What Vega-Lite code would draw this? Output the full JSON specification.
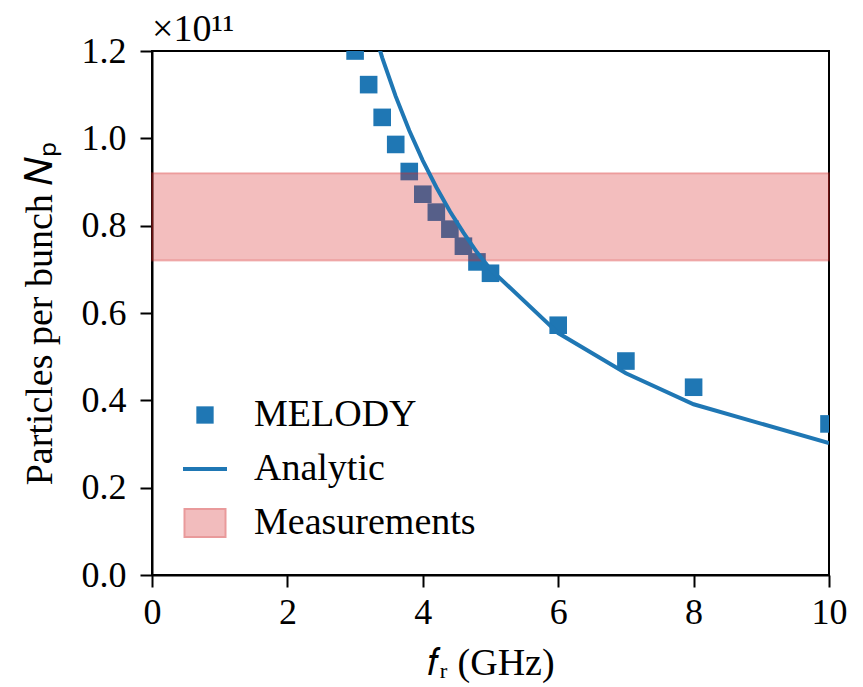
{
  "$schema": "https://vega.github.io/schema/vega-lite/v6.json",
  "width": 677,
  "height": 524,
  "autosize": {"type": "none"},
  "padding": {"left": 152, "top": 51, "right": 34, "bottom": 112},
  "background": "white",
  "title": {"text": "×10¹¹", "anchor": "start", "frame": "group", "fontSize": 38, "font": "Liberation Serif", "fontWeight": "normal", "offset": -16, "color": "black"},
  "datasets": {
    "melody": [
      {"series": "MELODY", "f": 3.0, "np": 1.2},
      {"series": "MELODY", "f": 3.2, "np": 1.123},
      {"series": "MELODY", "f": 3.4, "np": 1.048},
      {"series": "MELODY", "f": 3.6, "np": 0.986},
      {"series": "MELODY", "f": 3.8, "np": 0.924},
      {"series": "MELODY", "f": 4.0, "np": 0.872},
      {"series": "MELODY", "f": 4.2, "np": 0.831},
      {"series": "MELODY", "f": 4.4, "np": 0.792},
      {"series": "MELODY", "f": 4.6, "np": 0.753},
      {"series": "MELODY", "f": 4.8, "np": 0.717},
      {"series": "MELODY", "f": 5.0, "np": 0.691},
      {"series": "MELODY", "f": 6.0, "np": 0.572},
      {"series": "MELODY", "f": 7.0, "np": 0.49},
      {"series": "MELODY", "f": 8.0, "np": 0.43},
      {"series": "MELODY", "f": 10.0, "np": 0.346}
    ],
    "analytic": [
      {"series": "Analytic", "f": 3.0, "np": 1.407},
      {"series": "Analytic", "f": 3.2, "np": 1.288},
      {"series": "Analytic", "f": 3.4, "np": 1.185},
      {"series": "Analytic", "f": 3.6, "np": 1.096},
      {"series": "Analytic", "f": 3.8, "np": 1.018},
      {"series": "Analytic", "f": 4.0, "np": 0.949},
      {"series": "Analytic", "f": 4.2, "np": 0.888},
      {"series": "Analytic", "f": 4.4, "np": 0.833},
      {"series": "Analytic", "f": 4.6, "np": 0.784},
      {"series": "Analytic", "f": 4.8, "np": 0.739},
      {"series": "Analytic", "f": 5.0, "np": 0.7},
      {"series": "Analytic", "f": 6.0, "np": 0.554},
      {"series": "Analytic", "f": 7.0, "np": 0.462},
      {"series": "Analytic", "f": 8.0, "np": 0.391},
      {"series": "Analytic", "f": 10.0, "np": 0.302}
    ],
    "band": [
      {"series": "Measurements", "f0": 0, "f1": 10, "lo": 0.72, "hi": 0.92}
    ]
  },
  "layer": [
    {
      "data": {"name": "melody"},
      "mark": {"type": "point", "filled": true, "size": 310, "opacity": 1, "color": "#1f77b4", "clip": true},
      "encoding": {
        "x": {"field": "f", "type": "quantitative", "scale": {"domain": [0, 10], "nice": false, "zero": false},
              "axis": {"values": [0, 2, 4, 6, 8, 10], "format": "d", "labelPadding": 8, "titlePadding": 14},
              "title": "𝑓ᵣ (GHz)"},
        "y": {"field": "np", "type": "quantitative", "scale": {"domain": [0, 1.2], "nice": false},
              "axis": {"values": [0, 0.2, 0.4, 0.6, 0.8, 1.0, 1.2], "format": ".1f", "labelPadding": 14, "titlePadding": 22},
              "title": "Particles per bunch 𝑁ₚ"},
        "shape": {"field": "series", "type": "nominal",
                  "scale": {"domain": ["MELODY", "Analytic", "Measurements"], "range": ["square", "stroke", "M-1,-0.68H1V0.68H-1Z"]},
                  "legend": {
                    "orient": "none", "legendX": 34, "legendY": 345, "title": null, "padding": 0,
                    "symbolSize": 1936, "symbolOffset": 0, "labelFontSize": 38, "labelFont": "Liberation Serif",
                    "labelOffset": 30, "rowPadding": 16, "labelColor": "black", "labelLimit": 400,
                    "encoding": {"symbols": {
                      "size": {"value": {"expr": "datum.value === 'MELODY' ? 300 : datum.value === 'Analytic' ? 1936 : 1681"}},
                      "fill": {"value": {"expr": "datum.value === 'MELODY' ? '#1f77b4' : datum.value === 'Measurements' ? '#f2bcbd' : 'transparent'"}},
                      "stroke": {"value": {"expr": "datum.value === 'Measurements' ? '#e99a9b' : '#1f77b4'"}},
                      "strokeWidth": {"value": {"expr": "datum.value === 'Analytic' ? 4 : datum.value === 'Measurements' ? 2 : 0"}},
                      "opacity": {"value": 1},
                      "fillOpacity": {"value": 1},
                      "strokeOpacity": {"value": 1}
                    }}
                  }}
      }
    },
    {
      "data": {"name": "band"},
      "mark": {"type": "rect", "fill": "#d62728", "fillOpacity": 0.3, "stroke": "#d62728", "strokeOpacity": 0.3, "strokeWidth": 2},
      "encoding": {
        "x": {"field": "f0", "type": "quantitative"},
        "x2": {"field": "f1"},
        "y": {"field": "lo", "type": "quantitative"},
        "y2": {"field": "hi"}
      }
    },
    {
      "data": {"name": "analytic"},
      "mark": {"type": "line", "strokeWidth": 4, "color": "#1f77b4", "clip": true},
      "encoding": {
        "x": {"field": "f", "type": "quantitative"},
        "y": {"field": "np", "type": "quantitative"}
      }
    }
  ],
  "config": {
    "font": "Liberation Serif",
    "view": {"stroke": "black", "strokeWidth": 2},
    "axis": {
      "domainColor": "black", "domainWidth": 2, "tickColor": "black", "tickWidth": 2, "tickSize": 12,
      "labelFont": "Liberation Serif", "labelFontSize": 36, "labelColor": "black",
      "titleFont": "Liberation Serif", "titleFontSize": 38, "titleFontWeight": "normal", "titleColor": "black",
      "grid": false, "labelFlush": false, "labelOverlap": false
    }
  }
}
